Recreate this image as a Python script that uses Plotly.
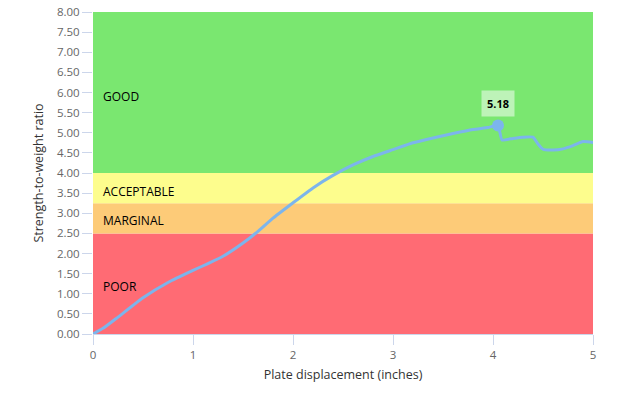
import plotly.graph_objects as go

# data
disp = [0, 0.1, 0.25, 0.5, 0.75, 1.0, 1.15, 1.3, 1.5, 1.65, 1.8, 2.0, 2.2, 2.4, 2.6, 2.8,
        3.0, 3.2, 3.4, 3.6, 3.8, 3.95, 4.05, 4.09, 4.2, 4.3, 4.4, 4.45, 4.5, 4.6, 4.7,
        4.8, 4.9, 5.0]
ratio = [0, 0.14, 0.42, 0.90, 1.28, 1.58, 1.75, 1.93, 2.26, 2.55, 2.88, 3.26, 3.63, 3.94,
         4.20, 4.41, 4.58, 4.75, 4.87, 4.98, 5.08, 5.13, 5.18, 4.82, 4.86, 4.89, 4.89,
         4.72, 4.59, 4.57, 4.60, 4.68, 4.78, 4.76]
peak_x = [4.05]
peak_y = [5.18]

band_names = ["POOR", "MARGINAL", "ACCEPTABLE", "GOOD"]
band_from = [0, 2.5, 3.25, 4.0]
band_to = [2.5, 3.25, 4.0, 8.0]
band_label_y = [1.19, 2.81, 3.55, 5.91]
band_colors = ["#ff6b74", "#fdcb78", "#fdfd8d", "#7ae770"]

FONT = "Open Sans, DejaVu Sans, sans-serif"

fig = go.Figure()
fig.add_trace(go.Scatter(x=disp, y=ratio, mode="lines",
                         line=dict(color="#7cb5ec", width=3, shape="spline", smoothing=0.4),
                         hoverinfo="skip", showlegend=False))
fig.add_trace(go.Scatter(x=peak_x, y=peak_y, mode="markers",
                         marker=dict(color="#7cb5ec", size=12), showlegend=False))

for name, y0, y1, c, ly in zip(band_names, band_from, band_to, band_colors, band_label_y):
    fig.add_shape(type="rect", xref="x", yref="y", x0=0, x1=5, y0=y0, y1=y1,
                  fillcolor=c, line=dict(width=0), layer="below")
    fig.add_annotation(x=0.08, y=ly, xref="x", yref="y", text=name, showarrow=False,
                       xanchor="left", yanchor="middle",
                       font=dict(family=FONT, size=12, color="#000000"))

fig.add_annotation(x=peak_x[0], y=peak_y[0], xref="x", yref="y",
                   text="<b>%.2f</b>" % peak_y[0], showarrow=False,
                   yshift=22, bgcolor="rgba(255,255,255,0.5)", borderpad=5,
                   font=dict(family=FONT, size=11, color="#000000"))

fig.update_layout(
    width=618, height=397,
    margin=dict(l=93, r=25, t=12, b=63, autoexpand=False),
    plot_bgcolor="white", paper_bgcolor="white",
    font=dict(family=FONT, size=11, color="#666666"),
    xaxis=dict(range=[0, 5], tickvals=[0, 1, 2, 3, 4, 5], showgrid=False, zeroline=False,
               showline=True, linecolor="#ccd6eb", linewidth=1, automargin=False,
               ticks="outside", ticklen=10, tickcolor="#ccd6eb",
               tickfont=dict(size=11.5, color="#666666"),
               title=dict(text="Plate displacement (inches)",
                          font=dict(size=12.5, color="#333333"), standoff=9)),
    yaxis=dict(range=[0, 8], tickvals=[i * 0.5 for i in range(17)], tickformat=".2f",
               showgrid=False, zeroline=False, showline=False, automargin=False,
               ticks="outside", ticklen=10, tickcolor="#ccd6eb",
               tickfont=dict(size=11.5, color="#666666"),
               title=dict(text="Strength-to-weight ratio",
                          font=dict(size=12.5, color="#333333"), standoff=10)),
)

fig.write_html("out.html", config={"displayModeBar": False},
               post_script="document.body.style.margin='0';document.body.style.padding='0';")
